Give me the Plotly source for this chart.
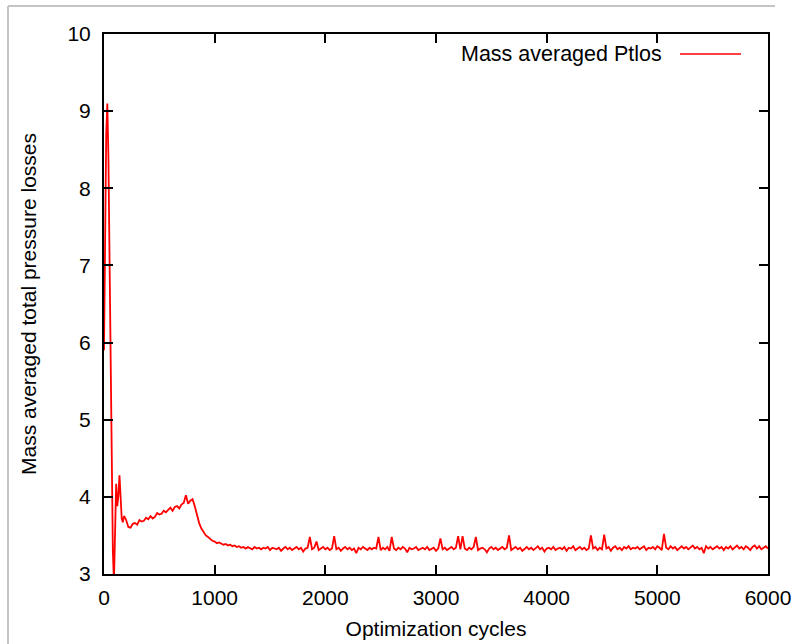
import plotly.graph_objects as go

# ---- data ----
# start-up transient, every 10 cycles (0 .. 190)
cycles_startup = list(range(0, 200, 10))
ptlos_startup = [5.9, 7.6, 8.7, 9.1, 8.4, 7.1, 5.7, 4.4, 3.3, 2.9,
                 3.85, 4.17, 3.88, 4.02, 4.28, 3.98, 3.72, 3.67, 3.75, 3.73]

# rise and relaxation, every 20 cycles (200 .. 1200)
cycles_rise = list(range(200, 1201, 20))
ptlos_rise = [3.70, 3.61, 3.60, 3.65, 3.66, 3.64, 3.70, 3.68, 3.69, 3.73,
              3.71, 3.75, 3.72, 3.74, 3.79, 3.77, 3.78, 3.82, 3.80, 3.83,
              3.86, 3.82, 3.87, 3.88, 3.85, 3.90, 3.92, 4.02, 3.91, 3.95,
              3.97, 3.88, 3.76, 3.66, 3.59, 3.54, 3.50, 3.48, 3.45, 3.43,
              3.42, 3.40, 3.41, 3.39, 3.38, 3.39, 3.37, 3.38, 3.36, 3.37,
              3.35]

# plateau, every 20 cycles (1220 .. 6000)
cycles_plateau = list(range(1220, 6001, 20))
ptlos_plateau = [
    3.36, 3.34, 3.35, 3.33, 3.35, 3.34, 3.32, 3.35, 3.33, 3.34, 3.32, 3.34, 3.33, 3.35, 3.31, 3.34, 3.33, 3.32, 3.34, 3.30,
    3.33, 3.35, 3.32, 3.34, 3.31, 3.33, 3.35, 3.32, 3.34, 3.29, 3.33, 3.34, 3.48, 3.32, 3.34, 3.42, 3.31, 3.33, 3.35, 3.32,
    3.34, 3.31, 3.33, 3.49, 3.32, 3.34, 3.30, 3.33, 3.35, 3.32, 3.34, 3.31, 3.33, 3.27, 3.34, 3.32, 3.35, 3.33, 3.31, 3.34,
    3.32, 3.34, 3.33, 3.48, 3.31, 3.34, 3.32, 3.35, 3.30, 3.48, 3.33, 3.31, 3.34, 3.32, 3.35, 3.33, 3.28, 3.34, 3.32, 3.33,
    3.35, 3.31, 3.33, 3.34, 3.32, 3.35, 3.31, 3.33, 3.34, 3.30, 3.33, 3.46, 3.32, 3.34, 3.31, 3.33, 3.35, 3.32, 3.34, 3.49,
    3.32, 3.49, 3.33, 3.31, 3.34, 3.32, 3.35, 3.48, 3.31, 3.33, 3.34, 3.32, 3.28, 3.33, 3.35, 3.32, 3.34, 3.31, 3.33, 3.35,
    3.32, 3.34, 3.50, 3.31, 3.33, 3.35, 3.32, 3.34, 3.30, 3.33, 3.35, 3.32, 3.34, 3.31, 3.33, 3.36, 3.32, 3.34, 3.29, 3.33,
    3.34, 3.32, 3.35, 3.31, 3.33, 3.34, 3.32, 3.35, 3.30, 3.34, 3.33, 3.36, 3.31, 3.33, 3.35, 3.32, 3.34, 3.31, 3.33, 3.50,
    3.33, 3.35, 3.31, 3.34, 3.32, 3.51, 3.33, 3.35, 3.30, 3.34, 3.36, 3.32, 3.34, 3.31, 3.35, 3.33, 3.36, 3.32, 3.34, 3.33,
    3.35, 3.32, 3.34, 3.36, 3.31, 3.34, 3.33, 3.35, 3.32, 3.36, 3.34, 3.31, 3.52, 3.34, 3.32, 3.36, 3.33, 3.35, 3.31, 3.34,
    3.36, 3.33, 3.35, 3.32, 3.34, 3.37, 3.33, 3.35, 3.32, 3.34, 3.27, 3.36, 3.33, 3.35, 3.32, 3.34, 3.36, 3.33, 3.35, 3.31,
    3.35, 3.33, 3.36, 3.32, 3.34, 3.37, 3.33, 3.35, 3.32, 3.36, 3.34, 3.31, 3.35, 3.37, 3.33, 3.36, 3.32, 3.34, 3.36, 3.33,
]

series_name = "Mass averaged Ptlos"
x_title = "Optimization cycles"
y_title = "Mass averaged total pressure losses"
x_ticks = [0, 1000, 2000, 3000, 4000, 5000, 6000]
y_ticks = [3, 4, 5, 6, 7, 8, 9, 10]

cycles = cycles_startup + cycles_rise + cycles_plateau
ptlos = ptlos_startup + ptlos_rise + ptlos_plateau
assert len(cycles) == len(ptlos), (len(cycles), len(ptlos))

FONT = "Liberation Sans, Arial, sans-serif"
RED = "#ff0000"

fig = go.Figure()
fig.add_trace(go.Scatter(x=cycles, y=ptlos, mode="lines",
                         line=dict(color=RED, width=1.8),
                         name=series_name, showlegend=False))

axis_common = dict(showline=True, linecolor="black", linewidth=2, mirror="ticks",
                   ticks="inside", ticklen=9, tickwidth=2, tickcolor="black",
                   showgrid=False, zeroline=False, automargin=False,
                   tickfont=dict(family=FONT, size=21, color="black"))

fig.update_xaxes(range=[0, 6000], tickvals=x_ticks, ticklabelstandoff=4,
                 title=dict(text=x_title, font=dict(family=FONT, size=21, color="black"), standoff=13),
                 **axis_common)
fig.update_yaxes(range=[3, 10], tickvals=y_ticks, ticklabelstandoff=7,
                 title=dict(text=y_title, font=dict(family=FONT, size=21, color="black"), standoff=25),
                 **axis_common)

# legend drawn gnuplot style: text then sample line
fig.add_annotation(xref="paper", yref="paper", x=(664 - 104) / 664, y=(574 - 54) / 540,
                   xanchor="right", yanchor="middle", showarrow=False,
                   text=series_name, font=dict(family=FONT, size=21.5, color="black"))
fig.add_shape(type="line", xref="paper", yref="paper",
              x0=(680 - 104) / 664, x1=(741 - 104) / 664,
              y0=(574 - 54) / 540, y1=(574 - 54) / 540,
              line=dict(color=RED, width=1.5))

# faint grey frame at the picture's left/top edge
fig.add_shape(type="line", xref="paper", yref="paper",
              x0=(8 - 104) / 664, x1=(8 - 104) / 664,
              y0=(574 - 6) / 540, y1=(574 - 644) / 540,
              line=dict(color="#c4c4c4", width=2), layer="above")
fig.add_shape(type="line", xref="paper", yref="paper",
              x0=(8 - 104) / 664, x1=(775 - 104) / 664,
              y0=(574 - 6) / 540, y1=(574 - 6) / 540,
              line=dict(color="#c4c4c4", width=2), layer="above")

fig.update_layout(width=798, height=644,
                  margin=dict(l=104, r=30, t=34, b=70, autoexpand=False),
                  paper_bgcolor="white", plot_bgcolor="white",
                  showlegend=False)

fig.write_html("out.html", config={"displayModeBar": False},
               post_script="document.body.style.margin='0';")
